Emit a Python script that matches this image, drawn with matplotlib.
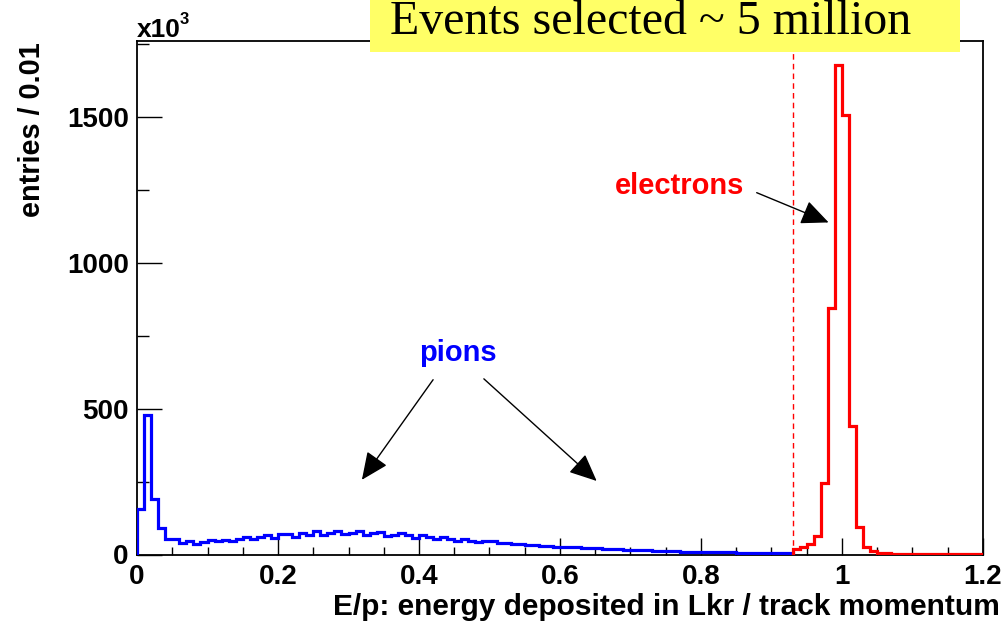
import numpy as np
import matplotlib
matplotlib.use("Agg")
import matplotlib.pyplot as plt
from matplotlib.patches import Rectangle
from matplotlib.ticker import MultipleLocator

# E/p histograms, entries per 0.01 bin (in units of 10^3)
bin_width = 0.01
cut_value = 0.93
x_max = 1.2

pion_counts = [
    156, 478, 189, 92, 52, 54, 41, 47, 37, 43,
    50, 47, 48, 45, 52, 60, 52, 59, 66, 57,
    70, 70, 61, 75, 66, 79, 68, 75, 82, 70,
    75, 79, 68, 72, 77, 63, 68, 72, 68, 56,
    68, 61, 52, 61, 54, 45, 52, 47, 42, 45,
    47, 40, 40, 37, 37, 34, 34, 30, 30, 27,
    27, 24, 24, 23, 22, 21, 20, 19, 18, 17,
    15, 15, 14, 13, 13, 12, 11, 10, 10, 9,
    9, 8, 8, 7, 7, 6, 6, 5, 5, 5,
    4, 4, 4,
]

electron_counts = [
    19, 24, 35, 63, 244, 845, 1676, 1505, 441, 95,
    25, 12, 6, 4, 3, 2, 2, 2, 1, 1,
    1, 1, 1, 1, 1, 1, 1,
]

x_tick_labels = ["0", "0.2", "0.4", "0.6", "0.8", "1", "1.2"]
y_tick_labels = ["0", "500", "1000", "1500"]

pion_edges = np.arange(len(pion_counts) + 1) * bin_width
electron_edges = cut_value + np.arange(len(electron_counts) + 1) * bin_width

W, H = 1006, 627
fig = plt.figure(figsize=(W / 100, H / 100), dpi=100)
fig.patch.set_facecolor("white")

left, right, top, bottom = 137, 983, 41, 554.5
ax = fig.add_axes([left / W, 1 - bottom / H, (right - left) / W, (bottom - top) / H])

FONT = "Liberation Sans"

ax.stairs(pion_counts, pion_edges, baseline=0, color="#0000ff", lw=2.3, zorder=3)
ax.stairs(electron_counts, electron_edges, baseline=0, color="#ff0000", lw=2.3, zorder=3)

y_top = 1.05 * max(electron_counts)
ax.set_xlim(0, x_max)
ax.set_ylim(0, y_top)

# selection cut
ax.plot([cut_value, cut_value], [0, y_top], color="#ff0000", lw=1.0,
        ls=(0, (4, 3)), zorder=2)

# frame and ticks
for side in ["top", "right", "left", "bottom"]:
    ax.spines[side].set_linewidth(1.3)
    ax.spines[side].set_color("black")

ax.set_xticks(np.arange(0, x_max + 0.001, 0.2))
ax.set_xticklabels(x_tick_labels)
ax.xaxis.set_minor_locator(MultipleLocator(0.05))
ax.set_yticks([0, 500, 1000, 1500])
ax.set_yticklabels(y_tick_labels)
ax.yaxis.set_minor_locator(MultipleLocator(250))

ax.tick_params(axis="x", which="major", direction="in", length=12.5, width=1.0,
               pad=7, labelsize=20, top=False)
ax.tick_params(axis="x", which="minor", direction="in", length=6, width=1.0, top=False)
ax.tick_params(axis="y", which="major", direction="in", length=18, width=1.0,
               pad=6, labelsize=20, right=False)
ax.tick_params(axis="y", which="minor", direction="in", length=8.5, width=1.0, right=False)
for lab in ax.get_xticklabels() + ax.get_yticklabels():
    lab.set_fontfamily(FONT)
    lab.set_fontweight("bold")

# axis titles
fig.text(1000 / W, 1 - 607 / H, "E/p: energy deposited in Lkr / track momentum",
         ha="right", va="center", fontsize=21.5, fontweight="bold", family=FONT)
fig.text(32 / W, 1 - 42 / H, "entries / 0.01", rotation=90, ha="center", va="top",
         fontsize=20.8, fontweight="bold", family=FONT)

# exponent
fig.text(137 / W, 1 - 37 / H, "x10", ha="left", va="baseline",
         fontsize=19, fontweight="bold", family=FONT)
fig.text(180 / W, 1 - 24 / H, "3", ha="left", va="baseline",
         fontsize=12, fontweight="bold", family=FONT)

# annotations
ax.text(0.455, 692, "pions", color="#0000ff", ha="center", va="center",
        fontsize=21, fontweight="bold", family=FONT)
ax.text(0.770, 1262, "electrons", color="#ff0000", ha="center", va="center",
        fontsize=21, fontweight="bold", family=FONT)

arrow_kw = dict(arrowstyle="-|>,head_length=0.85,head_width=0.38", color="black",
                lw=1.0, shrinkA=0, shrinkB=0, mutation_scale=20)
ax.annotate("", xy=(0.319, 256), xytext=(0.420, 599), arrowprops=arrow_kw)
ax.annotate("", xy=(0.652, 252), xytext=(0.492, 602), arrowprops=arrow_kw)
ax.annotate("", xy=(0.981, 1138), xytext=(0.879, 1240), arrowprops=arrow_kw)

# highlighted caption box
fig.patches.append(Rectangle((370 / W, 1 - 52 / H), 590 / W, 52 / H,
                             transform=fig.transFigure, facecolor="#ffff66",
                             edgecolor="none", zorder=10))
fig.text(651 / W, 1 - 34 / H, "Events selected ~ 5 million", ha="center",
         va="baseline", fontsize=34.5, family="Liberation Serif", color="black",
         zorder=11)

fig.savefig("out.png", dpi=100)
